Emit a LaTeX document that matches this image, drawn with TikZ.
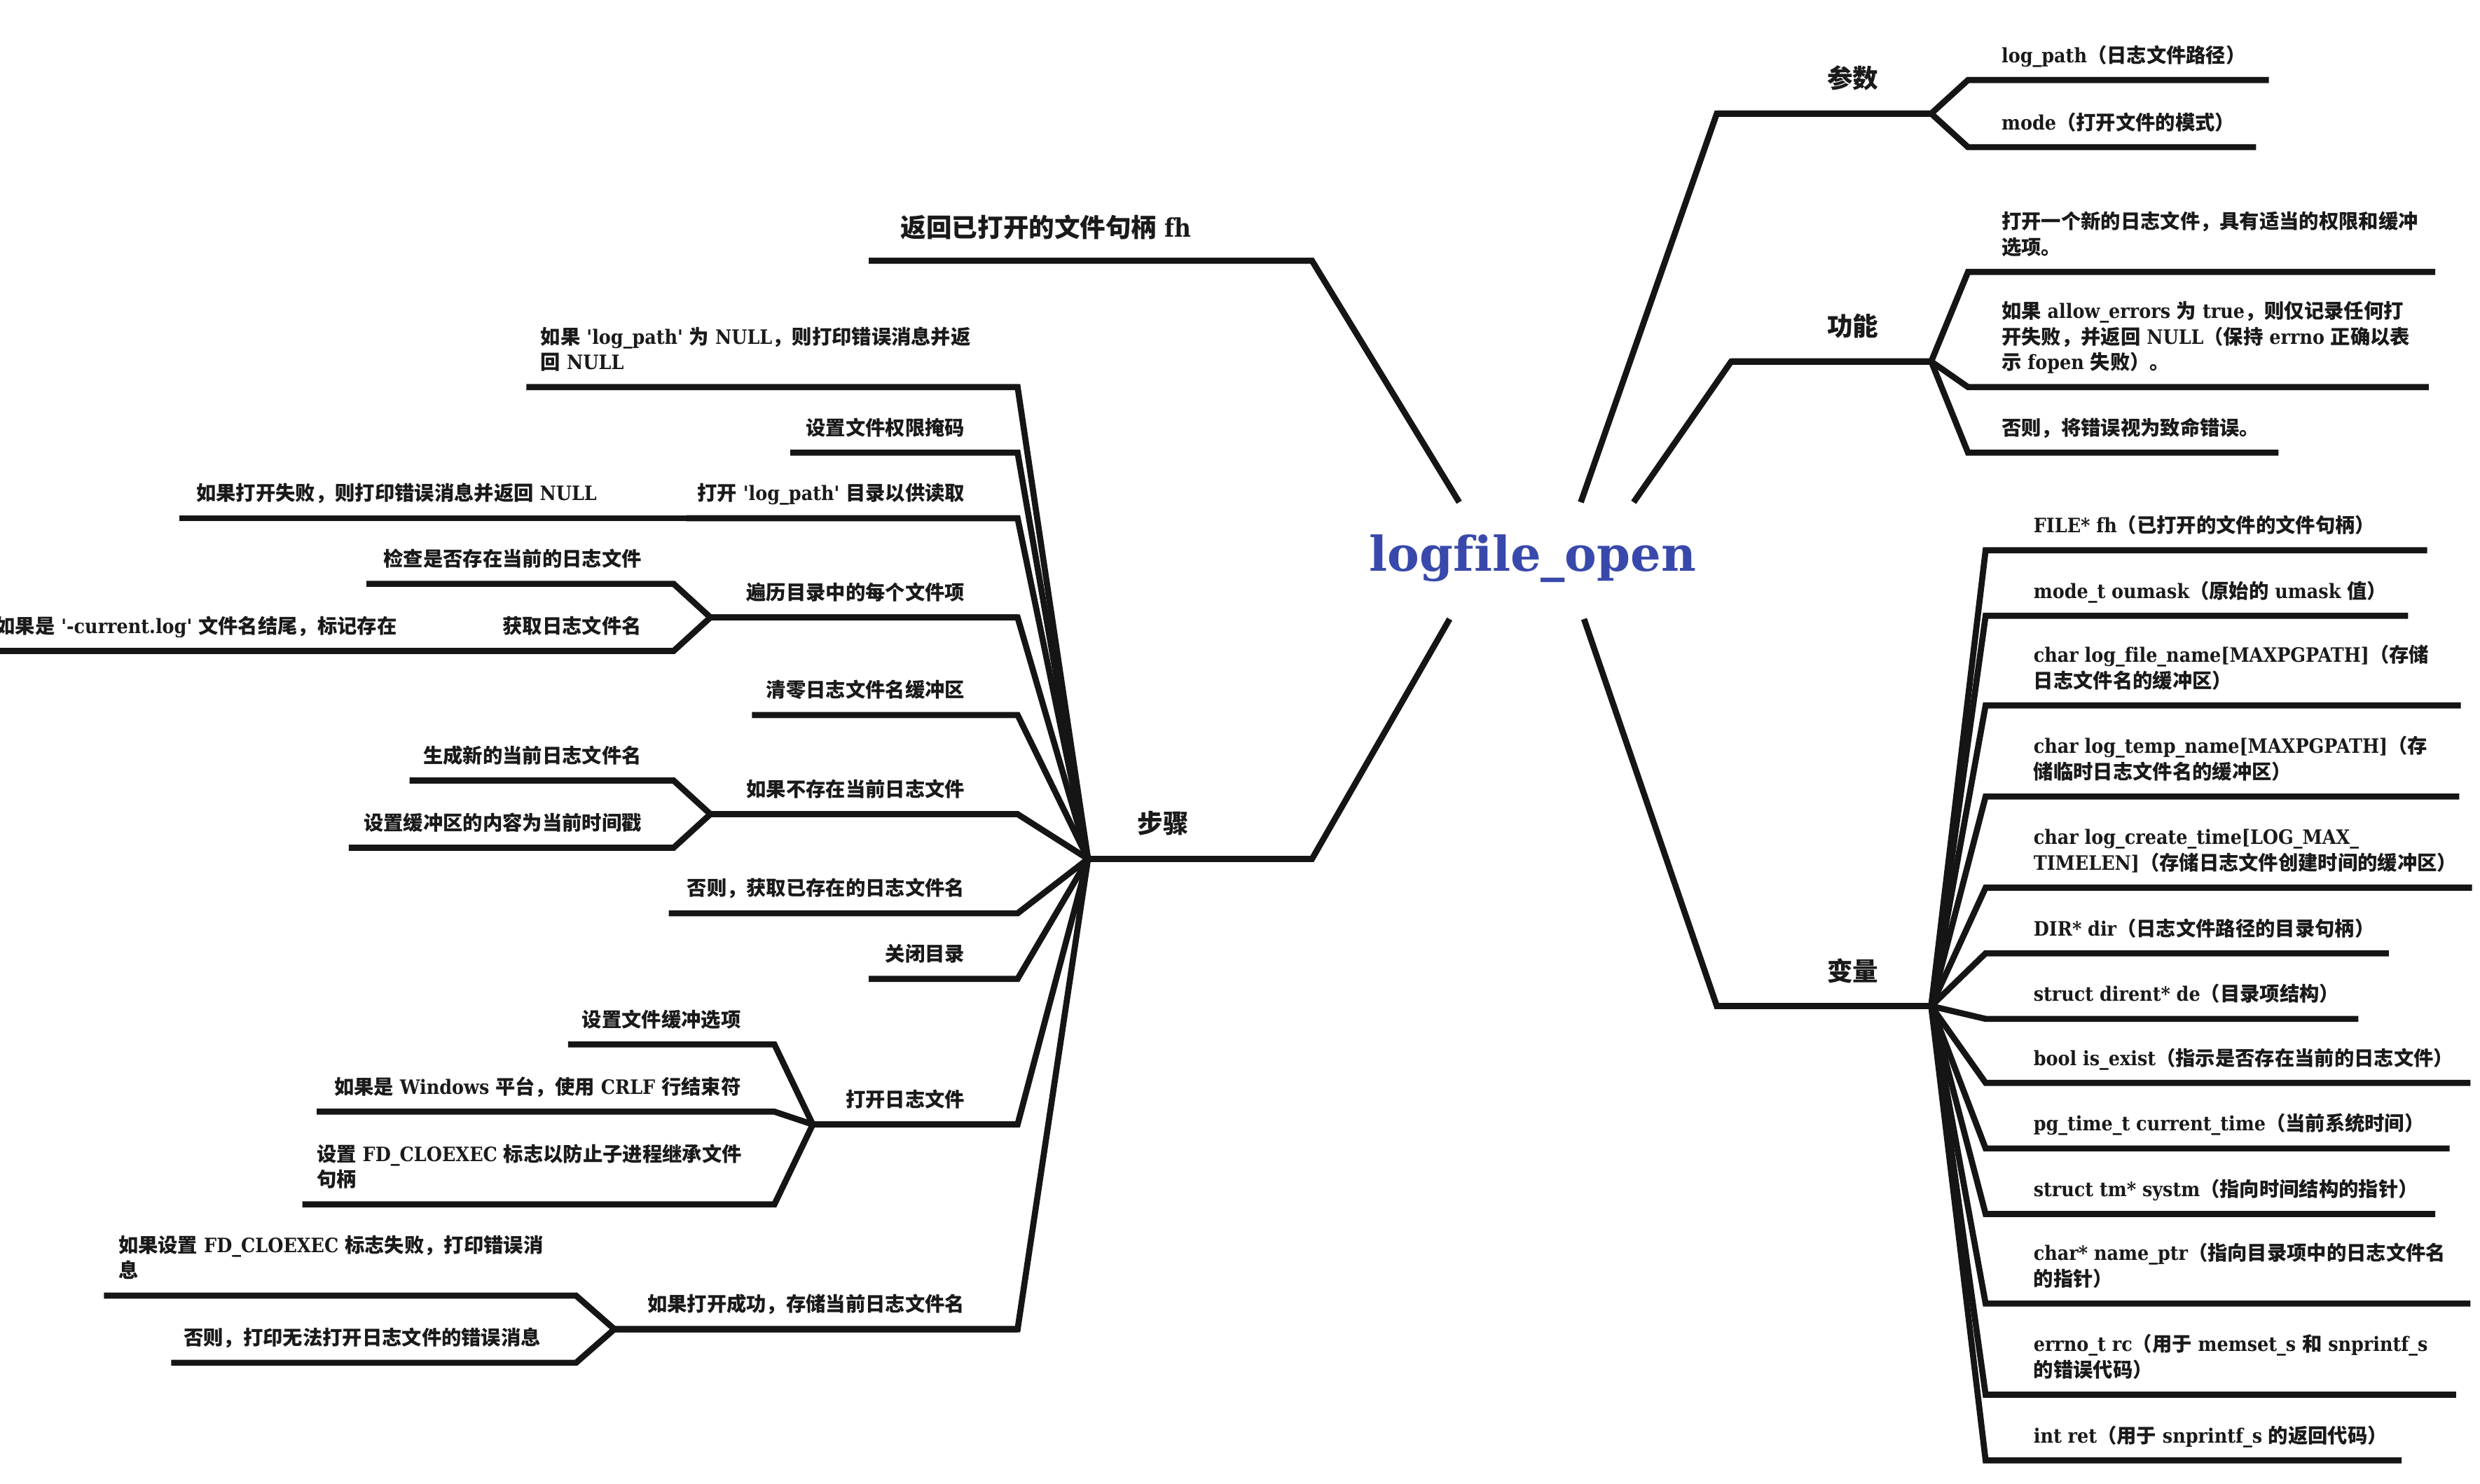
\documentclass[tikz,border=0pt]{standalone}
\usepackage{fontspec}
\setmainfont{DejaVu Serif}[Ligatures={TeXOff,CommonOff}]
\newfontfamily\latf{DejaVu Serif}[FakeStretch=0.9,Ligatures={TeXOff,CommonOff}]
\newfontfamily\titf{DejaVu Serif}[Ligatures={TeXOff,CommonOff}]
\newfontfamily\cjkf{Noto Sans CJK SC}
\XeTeXinterchartokenstate=1
\chardef\cjkcls=7
\newcount\cjkcnt
\def\setcjkrange#1#2{\cjkcnt=#1\relax\loop\XeTeXcharclass\cjkcnt=\cjkcls\relax\ifnum\cjkcnt<#2\relax\advance\cjkcnt by 1\repeat}
\setcjkrange{"3000}{"303F}
\setcjkrange{"4E00}{"9FFF}
\setcjkrange{"FF00}{"FFEF}
\XeTeXinterchartoks 0 \cjkcls = {\cjkf}
\XeTeXinterchartoks 4095 \cjkcls = {\cjkf}
\XeTeXinterchartoks \cjkcls 0 = {\latf}
\XeTeXinterchartoks \cjkcls 4095 = {\latf}
\definecolor{linec}{HTML}{151515}
\definecolor{textc}{HTML}{1A1A1A}
\definecolor{titlec}{HTML}{3949AB}
\tikzset{
  ln/.style={draw=linec, line width=3.8pt, line join=miter},
  txt/.style={inner sep=0pt, outer sep=0pt, text=textc, align=left, font=\latf\bfseries\fontsize{12.4}{16}\selectfont},
  cat/.style={inner sep=0pt, outer sep=0pt, text=textc, font=\latf\bfseries\fontsize{16}{20}\selectfont},
}
\newcommand\rkid[6]{%
  \coordinate (#1s) at (#4,#6);
  \coordinate (#1e) at (#5,#6);
  \draw[ln] (#2) -- (#3) -- (#1s) -- (#1e);}
\begin{document}
\begin{tikzpicture}[x=1pt,y=-1pt]
\useasboundingbox[fill=white] (0,0) rectangle (1550,927.4);

% root
\node[font=\titf\bfseries\fontsize{30}{36}\selectfont, text=titlec, inner sep=0pt, anchor=base] (root) at (958,357) {logfile\_open};
\coordinate (r-tl) at (912,314);
\coordinate (r-tm) at (988,314);
\coordinate (r-tr) at (1021,314);
\coordinate (r-bl) at (906,387);
\coordinate (r-br) at (990,387);

% ---- main branches
\coordinate (b-fh-s) at (820,163); \coordinate (b-fh) at (543,163);
\draw[ln] (r-tl) -- (b-fh-s) -- (b-fh);
\node[cat, anchor=base west] (t-fh) at (563,148) {返回已打开的文件句柄 fh};

\coordinate (b-cs-s) at (1073,71); \coordinate (b-cs) at (1207,71);
\draw[ln] (r-tm) -- (b-cs-s) -- (b-cs);
\node[cat, anchor=base] (t-cs) at (1158,55) {参数};

\coordinate (b-gn-s) at (1082,226); \coordinate (b-gn) at (1207,226);
\draw[ln] (r-tr) -- (b-gn-s) -- (b-gn);
\node[cat, anchor=base] (t-gn) at (1158,210) {功能};

\coordinate (b-bl-s) at (1073,629); \coordinate (b-bl) at (1207,629);
\draw[ln] (r-br) -- (b-bl-s) -- (b-bl);
\node[cat, anchor=base] (t-bl) at (1158,613) {变量};

\coordinate (b-bz-s) at (820,537); \coordinate (b-bz) at (680,537);
\draw[ln] (r-bl) -- (b-bz-s) -- (b-bz);
\node[cat, anchor=base] (t-bz) at (727,521) {步骤};

% ---- 参数
\rkid{cs1}{b-cs-s}{b-cs}{1230}{1418}{50}
\node[txt, anchor=base west] (t-cs1) at (1251,39) {log\_path（日志文件路径）};
\rkid{cs2}{b-cs-s}{b-cs}{1230}{1410}{92}
\node[txt, anchor=base west] (t-cs2) at (1251,81) {mode（打开文件的模式）};

% ---- 功能
\rkid{gn1}{b-gn-s}{b-gn}{1230}{1522}{170}
\node[txt, anchor=base west] (t-gn1) at (1251,159) {打开一个新的日志文件，具有适当的权限和缓冲\\选项。};
\rkid{gn2}{b-gn-s}{b-gn}{1230}{1518}{242}
\node[txt, anchor=base west] (t-gn2) at (1251,231) {如果 allow\_errors 为 true，则仅记录任何打\\开失败，并返回 NULL（保持 errno 正确以表\\示 fopen 失败）。};
\rkid{gn3}{b-gn-s}{b-gn}{1230}{1424}{283}
\node[txt, anchor=base west] (t-gn3) at (1251,272) {否则，将错误视为致命错误。};

% ---- 变量
\rkid{v1}{b-bl-s}{b-bl}{1241}{1517}{344}
\node[txt, anchor=base west] (t-v1) at (1271,333) {FILE* fh（已打开的文件的文件句柄）};
\rkid{v2}{b-bl-s}{b-bl}{1241}{1505}{385}
\node[txt, anchor=base west] (t-v2) at (1271,374) {mode\_t oumask（原始的 umask 值）};
\rkid{v3}{b-bl-s}{b-bl}{1241}{1538}{441}
\node[txt, anchor=base west] (t-v3) at (1271,430) {char log\_file\_name[MAXPGPATH]（存储\\日志文件名的缓冲区）};
\rkid{v4}{b-bl-s}{b-bl}{1241}{1537}{498}
\node[txt, anchor=base west] (t-v4) at (1271,487) {char log\_temp\_name[MAXPGPATH]（存\\储临时日志文件名的缓冲区）};
\rkid{v5}{b-bl-s}{b-bl}{1241}{1545}{555}
\node[txt, anchor=base west] (t-v5) at (1271,544) {char log\_create\_time[LOG\_MAX\_\\TIMELEN]（存储日志文件创建时间的缓冲区）};
\rkid{v6}{b-bl-s}{b-bl}{1241}{1493}{596}
\node[txt, anchor=base west] (t-v6) at (1271,585) {DIR* dir（日志文件路径的目录句柄）};
\rkid{v7}{b-bl-s}{b-bl}{1241}{1474}{637}
\node[txt, anchor=base west] (t-v7) at (1271,626) {struct dirent* de（目录项结构）};
\rkid{v8}{b-bl-s}{b-bl}{1241}{1544}{677}
\node[txt, anchor=base west] (t-v8) at (1271,666) {bool is\_exist（指示是否存在当前的日志文件）};
\rkid{v9}{b-bl-s}{b-bl}{1241}{1531}{718}
\node[txt, anchor=base west] (t-v9) at (1271,707) {pg\_time\_t current\_time（当前系统时间）};
\rkid{v10}{b-bl-s}{b-bl}{1241}{1522}{759}
\node[txt, anchor=base west] (t-v10) at (1271,748) {struct tm* systm（指向时间结构的指针）};
\rkid{v11}{b-bl-s}{b-bl}{1241}{1544}{815}
\node[txt, anchor=base west] (t-v11) at (1271,804) {char* name\_ptr（指向目录项中的日志文件名\\的指针）};
\rkid{v12}{b-bl-s}{b-bl}{1241}{1535}{872}
\node[txt, anchor=base west] (t-v12) at (1271,861) {errno\_t rc（用于 memset\_s 和 snprintf\_s\\的错误代码）};
\rkid{v13}{b-bl-s}{b-bl}{1241}{1501}{913}
\node[txt, anchor=base west] (t-v13) at (1271,902) {int ret（用于 snprintf\_s 的返回代码）};

% ---- 步骤
\rkid{s1}{b-bz-s}{b-bz}{636}{329}{242}
\node[txt, anchor=base west] (t-s1) at (338,231) {如果 'log\_path' 为 NULL，则打印错误消息并返\\回 NULL};
\rkid{s2}{b-bz-s}{b-bz}{636}{494}{283}
\node[txt, anchor=base east] (t-s2) at (603,272) {设置文件权限掩码};
\rkid{s3}{b-bz-s}{b-bz}{636}{429}{324}
\node[txt, anchor=base east] (t-s3) at (603,313) {打开 'log\_path' 目录以供读取};
\rkid{s3a}{s3s}{s3e}{406}{112}{324}
\node[txt, anchor=base east] (t-s3a) at (373,313) {如果打开失败，则打印错误消息并返回 NULL};
\rkid{s4}{b-bz-s}{b-bz}{636}{444}{386}
\node[txt, anchor=base east] (t-s4) at (603,375) {遍历目录中的每个文件项};
\rkid{s4a}{s4s}{s4e}{421}{229}{365}
\node[txt, anchor=base east] (t-s4a) at (401,354) {检查是否存在当前的日志文件};
\rkid{s4b}{s4s}{s4e}{421}{305}{407}
\node[txt, anchor=base east] (t-s4b) at (401,396) {获取日志文件名};
\rkid{s4b1}{s4bs}{s4be}{290}{0}{407}
\node[txt, anchor=base east] (t-s4b1) at (248,396) {如果是 '-current.log' 文件名结尾，标记存在};
\rkid{s5}{b-bz-s}{b-bz}{636}{470}{447}
\node[txt, anchor=base east] (t-s5) at (603,436) {清零日志文件名缓冲区};
\rkid{s6}{b-bz-s}{b-bz}{636}{444}{509}
\node[txt, anchor=base east] (t-s6) at (603,498) {如果不存在当前日志文件};
\rkid{s6a}{s6s}{s6e}{421}{256}{488}
\node[txt, anchor=base east] (t-s6a) at (401,477) {生成新的当前日志文件名};
\rkid{s6b}{s6s}{s6e}{421}{218}{530}
\node[txt, anchor=base east] (t-s6b) at (401,519) {设置缓冲区的内容为当前时间戳};
\rkid{s7}{b-bz-s}{b-bz}{636}{418}{571}
\node[txt, anchor=base east] (t-s7) at (603,560) {否则，获取已存在的日志文件名};
\rkid{s8}{b-bz-s}{b-bz}{636}{543}{612}
\node[txt, anchor=base east] (t-s8) at (603,601) {关闭目录};
\rkid{s9}{b-bz-s}{b-bz}{636}{508}{703}
\node[txt, anchor=base east] (t-s9) at (603,692) {打开日志文件};
\rkid{s9a}{s9s}{s9e}{484}{355}{653}
\node[txt, anchor=base east] (t-s9a) at (463,642) {设置文件缓冲选项};
\rkid{s9b}{s9s}{s9e}{484}{198}{695}
\node[txt, anchor=base east] (t-s9b) at (463,684) {如果是 Windows 平台，使用 CRLF 行结束符};
\rkid{s9c}{s9s}{s9e}{484}{189}{753}
\node[txt, anchor=base west] (t-s9c) at (198,742) {设置 FD\_CLOEXEC 标志以防止子进程继承文件\\句柄};
\rkid{s10}{b-bz-s}{b-bz}{636}{384}{831}
\node[txt, anchor=base east] (t-s10) at (603,820) {如果打开成功，存储当前日志文件名};
\rkid{s10a}{s10s}{s10e}{360}{65}{810}
\node[txt, anchor=base west] (t-s10a) at (74,799) {如果设置 FD\_CLOEXEC 标志失败，打印错误消\\息};
\rkid{s10b}{s10s}{s10e}{360}{107}{852}
\node[txt, anchor=base east] (t-s10b) at (338,841) {否则，打印无法打开日志文件的错误消息};
\end{tikzpicture}
\end{document}
